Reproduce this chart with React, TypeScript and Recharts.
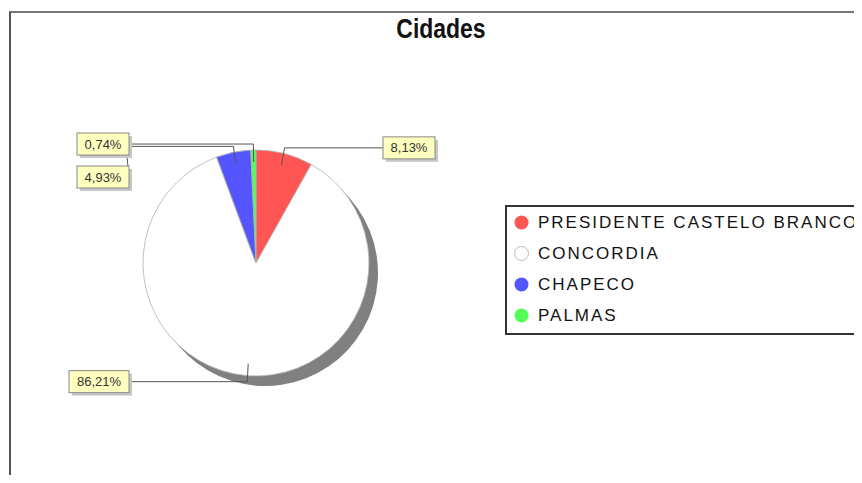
import { Cell, Legend, Pie, PieChart } from 'recharts';

const cities = ['PRESIDENTE CASTELO BRANCO', 'CONCORDIA', 'CHAPECO', 'PALMAS'];
const shares = [8.13, 86.21, 4.93, 0.74];
const sliceColors = ['#FF5555', '#FFFFFF', '#5555FF', '#55FF55'];

const data = cities.map((name, i) => ({ name, value: shares[i] }));

const CX = 256;
const CY = 263;
const R = 113;
const LABEL_R = R + 6;
const BOX_GAP = 14;
const BOX_H = 22;
const MIN_STEP = 33;

const fmt = (v: number) => v.toFixed(2).replace('.', ',') + '%';

// label y positions, pushed apart when two boxes on the same side overlap
const total = shares.reduce((a, b) => a + b, 0);
const mids: number[] = [];
let acc = 0;
shares.forEach(v => {
  const start = 90 - (acc / total) * 360;
  acc += v;
  const end = 90 - (acc / total) * 360;
  mids.push((start + end) / 2);
});
const labelShift: number[] = shares.map(() => 0);
[-1, 1].forEach(side => {
  const idx = mids
    .map((m, i) => i)
    .filter(i => (Math.cos((mids[i] * Math.PI) / 180) < 0 ? -1 : 1) === side)
    .sort((a, b) => -Math.sin((mids[a] * Math.PI) / 180) + Math.sin((mids[b] * Math.PI) / 180));
  let prev = -Infinity;
  idx.forEach(i => {
    const nominal = -LABEL_R * Math.sin((mids[i] * Math.PI) / 180);
    const y = Math.max(nominal, prev + MIN_STEP);
    labelShift[i] = y - nominal;
    prev = y;
  });
});

function renderLabel(props: any) {
  const { cx, cy, outerRadius, midAngle, index, value } = props;
  const a = (midAngle * Math.PI) / 180;
  const side = Math.cos(a) < 0 ? -1 : 1;
  const nominalY = cy - (outerRadius + 6) * Math.sin(a);
  const labelY = nominalY + labelShift[index];
  const text = fmt(value);
  const w = 12 + 8 * text.length;
  const edgeX = cx + side * (outerRadius + BOX_GAP);
  const boxX = side < 0 ? edgeX - w : edgeX;
  const elbowX = cx + outerRadius * Math.cos(a);
  const innerX = cx + (outerRadius - 12) * Math.cos(a);
  const innerY = cy - (outerRadius - 12) * Math.sin(a);
  const d = `M${edgeX},${labelY} L${edgeX + side * 3},${nominalY} L${elbowX},${nominalY} L${innerX},${innerY}`;
  return (
    <g key={`lbl-${index}`}>
      <path d={d} stroke="#555" strokeWidth={1} fill="none" />
      <rect x={boxX + 3} y={labelY - BOX_H / 2 + 3} width={w} height={BOX_H} fill="#c8c8c8" />
      <rect x={boxX} y={labelY - BOX_H / 2} width={w} height={BOX_H} fill="#FFFFC0" stroke="#888" strokeWidth={1} />
      <text x={boxX + w / 2} y={labelY} textAnchor="middle" dominantBaseline="central" fontSize={13} fill="#333" fontFamily="Liberation Sans, Arial, sans-serif">
        {text}
      </text>
    </g>
  );
}

function CityLegend() {
  return (
    <div style={{ width: 400, height: 126, border: '2px solid #333', background: '#fff', fontFamily: 'Liberation Sans, Arial, sans-serif' }}>
      {cities.map((c, i) => (
        <div key={c} style={{ height: 31, display: 'flex', alignItems: 'center' }}>
          <svg width={31} height={31} style={{ flex: 'none' }}>
            <circle cx={14.5} cy={15.5} r={7} fill={sliceColors[i]} stroke={i === 1 ? '#bbb' : 'none'} strokeWidth={1} />
          </svg>
          <span style={{ fontSize: 17, letterSpacing: 2, color: '#111', whiteSpace: 'nowrap' }}>{c}</span>
        </div>
      ))}
    </div>
  );
}

export default function App() {
  return (
    <div style={{ position: 'relative', margin: -8, width: 862, height: 483, overflow: 'hidden', background: '#fff' }}>
      <div style={{ position: 'absolute', left: 9, top: 11, width: 900, height: 500, borderTop: '2px solid #777', borderLeft: '2px solid #555' }} />
      <div style={{ position: 'absolute', left: 341, top: 13, width: 200, textAlign: 'center', fontFamily: 'Liberation Sans, Arial, sans-serif', fontWeight: 700, fontSize: 27, color: '#111', lineHeight: '32px', transform: 'scaleX(0.85)' }}>
        Cidades
      </div>
      <div style={{ position: 'absolute', left: 0, top: 0 }}>
        <PieChart width={862} height={483} margin={{ top: 0, right: 0, bottom: 0, left: 0 }}>
          <Pie
            data={data}
            dataKey="value"
            nameKey="name"
            cx={CX + 9}
            cy={CY + 10}
            outerRadius={R}
            startAngle={90}
            endAngle={-270}
            stroke="none"
            legendType="none"
            isAnimationActive={false}
          >
            {data.map((d, i) => (
              <Cell key={`s-${i}`} fill="#808080" />
            ))}
          </Pie>
          <Pie
            data={data}
            dataKey="value"
            nameKey="name"
            cx={CX}
            cy={CY}
            outerRadius={R}
            startAngle={90}
            endAngle={-270}
            stroke="#b0b0b0"
            strokeWidth={0.8}
            label={renderLabel}
            labelLine={false}
            isAnimationActive={false}
          >
            {data.map((d, i) => (
              <Cell key={`c-${i}`} fill={sliceColors[i]} />
            ))}
          </Pie>
          <Legend content={<CityLegend />} wrapperStyle={{ position: 'absolute', left: 505, top: 205, width: 400 }} />
        </PieChart>
      </div>
    </div>
  );
}
